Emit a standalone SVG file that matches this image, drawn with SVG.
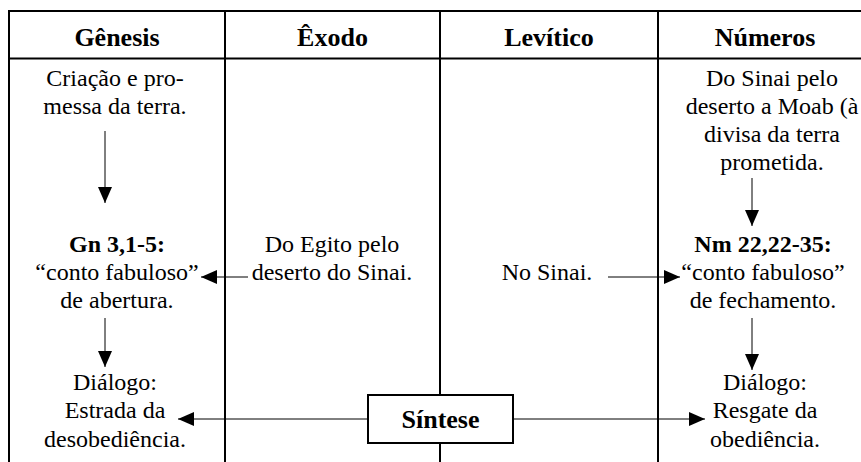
<svg xmlns="http://www.w3.org/2000/svg" width="861" height="462" viewBox="0 0 861 462">
<style>
.t{font-family:"Liberation Serif","Times New Roman",serif;font-size:24px;fill:#000;text-anchor:middle}
.b{font-weight:bold}
.h{font-size:26px;font-weight:bold}
.grid{stroke:#000;stroke-width:2;fill:none}
.conn{stroke:#000;stroke-width:1;fill:none;marker-end:url(#ah)}
.box{fill:#fff;stroke:#000;stroke-width:2}
</style>
<defs>
<marker id="ah" markerUnits="userSpaceOnUse" markerWidth="16" markerHeight="14" refX="16" refY="7" orient="auto">
<path d="M0,0 L16,7 L0,14 z" fill="#000"/>
</marker>
</defs>
<rect width="861" height="462" fill="#fff"/>
<g id="table">
<line class="grid" x1="8" y1="11" x2="861" y2="11" stroke-width="2.5"/>
<line class="grid" x1="8" y1="58.5" x2="861" y2="58.5"/>
<line class="grid" x1="9" y1="10" x2="9" y2="462"/>
<line class="grid" x1="225" y1="10" x2="225" y2="462"/>
<line class="grid" x1="440" y1="10" x2="440" y2="462"/>
<line class="grid" x1="658" y1="10" x2="658" y2="462"/>
</g>
<g id="headers">
<text class="t h" x="117" y="46">Gênesis</text>
<text class="t h" x="332.5" y="46">Êxodo</text>
<text class="t h" x="549" y="46">Levítico</text>
<text class="t h" x="765" y="46">Números</text>
</g>
<g id="connectors">
<line class="conn" x1="105" y1="131" x2="105" y2="203"/>
<line class="conn" x1="105" y1="318" x2="105" y2="367"/>
<line class="conn" x1="248" y1="277" x2="201" y2="277"/>
<line class="conn" x1="608" y1="277" x2="680" y2="277"/>
<line class="conn" x1="752" y1="178" x2="752" y2="226"/>
<line class="conn" x1="752" y1="318" x2="752" y2="370"/>
<line class="conn" x1="368" y1="419" x2="178" y2="419"/>
<line class="conn" x1="513" y1="419" x2="705" y2="419"/>
</g>
<g id="criacao">
<text class="t" x="115" y="86">Criação e pro-</text>
<text class="t" x="115" y="114">messa da terra.</text>
</g>
<g id="gn">
<text class="t b" x="117" y="252">Gn 3,1-5:</text>
<text class="t" x="117" y="280">“conto fabuloso”</text>
<text class="t" x="117" y="308">de abertura.</text>
</g>
<g id="dialogo-gn">
<text class="t" x="115" y="390">Diálogo:</text>
<text class="t" x="115" y="418">Estrada da</text>
<text class="t" x="115" y="447">desobediência.</text>
</g>
<g id="egito">
<text class="t" x="332" y="252">Do Egito pelo</text>
<text class="t" x="332" y="280">deserto do Sinai.</text>
</g>
<g id="sinai">
<text class="t" x="547" y="280">No Sinai.</text>
</g>
<g id="moab">
<text class="t" x="772" y="86">Do Sinai pelo</text>
<text class="t" x="772" y="114">deserto a Moab (à</text>
<text class="t" x="772" y="142">divisa da terra</text>
<text class="t" x="772" y="170">prometida.</text>
</g>
<g id="nm">
<text class="t b" x="763" y="252">Nm 22,22-35:</text>
<text class="t" x="763" y="280">“conto fabuloso”</text>
<text class="t" x="763" y="308">de fechamento.</text>
</g>
<g id="dialogo-nm">
<text class="t" x="765" y="390">Diálogo:</text>
<text class="t" x="765" y="418">Resgate da</text>
<text class="t" x="765" y="447">obediência.</text>
</g>
<g id="sintese">
<rect class="box" x="368" y="395" width="145" height="48"/>
<text class="t h" x="440.5" y="428">Síntese</text>
</g>
</svg>
